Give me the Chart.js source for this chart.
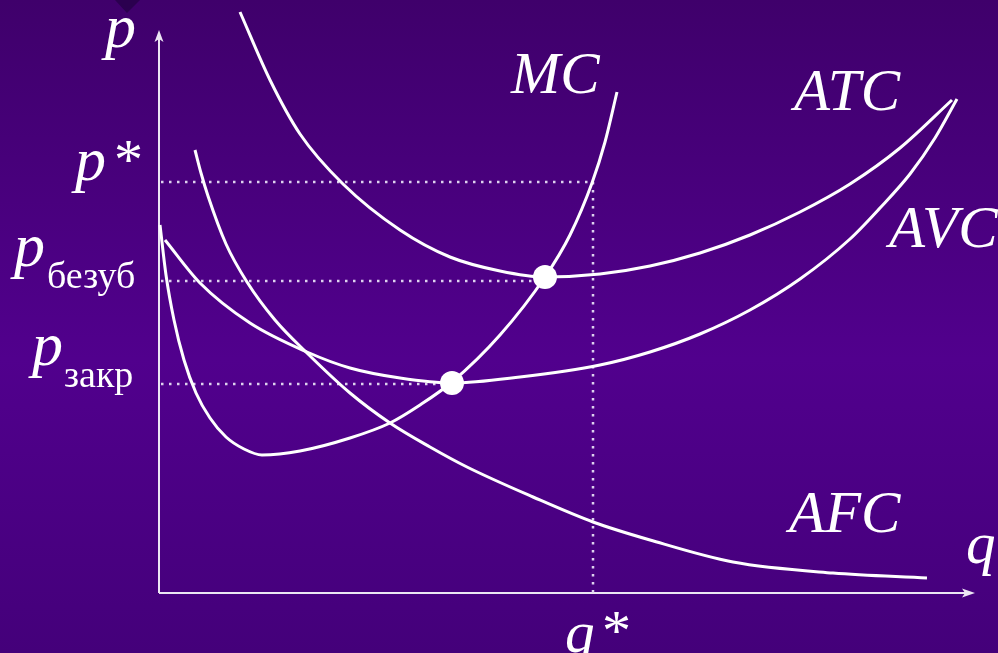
<!DOCTYPE html>
<html><head><meta charset="utf-8">
<script src="https://cdn.jsdelivr.net/npm/chart.js@4/dist/chart.umd.min.js"></script>
<style>html,body{margin:0;padding:0;background:#47007a;overflow:hidden}canvas{display:block}</style>
</head><body>
<canvas id="c" width="998" height="653"></canvas>
<script>
// quantity (q) and price (p) values
const mcQ  = [1, 7, 15, 25, 37, 51, 67, 85, 103, 141, 191, 231, 261, 293, 341, 386, 411, 433, 446, 458];
const mcP  = [368, 318, 273, 233, 200, 175, 156, 144, 138, 142, 155, 170, 188, 211, 258, 316, 358, 410, 451, 501];
const atcQ = [81, 111, 141, 184, 241, 291, 341, 386, 441, 491, 541, 591, 641, 691, 741, 793];
const atcP = [581, 513, 459, 409, 363, 336, 322, 316, 319, 327, 340, 358, 381, 409, 445, 493];
const avcQ = [6, 41, 91, 148, 191, 241, 293, 361, 441, 491, 541, 591, 641, 691, 721, 751, 776, 798];
const avcP = [353, 310, 270, 241, 225, 215, 210, 216, 228, 241, 259, 283, 314, 354, 385, 419, 455, 494];
const afcQ = [36, 42, 49, 67, 88, 116, 148, 191, 231, 271, 308, 374, 434, 491, 574, 674, 768];
const afcP = [443, 420, 397, 349, 311, 273, 240, 200, 170, 146, 126, 96, 71, 53, 31, 20, 15];
// key levels
const priceLabels = ['p*', 'pбезуб', 'pзакр'];
const priceLevels = [411, 312, 209];
const qStar = 434;
const dotQ = [386, 293];
const dotP = [316, 210];
const curveNames = ['MC', 'ATC', 'AVC', 'AFC'];
const xMax = 820, yMax = 593;

const pts = (qs, ps) => qs.map((q, i) => ({x: q, y: ps[i]}));
const curve = (qs, ps) => ({data: pts(qs, ps), showLine: true, borderColor: '#ffffff', borderWidth: 3,
  pointRadius: 0, cubicInterpolationMode: 'monotone', clip: false, order: 2});
const dotted = (data) => ({data, showLine: true, borderColor: '#ddd2ee', borderWidth: 2.5,
  borderDash: [2.5, 5.5], pointRadius: 0, tension: 0, clip: false, order: 3});

const datasets = [
  curve(mcQ, mcP), curve(atcQ, atcP), curve(avcQ, avcP), curve(afcQ, afcP),
  dotted([{x: 2, y: priceLevels[0]}, {x: qStar, y: priceLevels[0]}, {x: qStar, y: 0}]),
  dotted([{x: 2, y: priceLevels[1]}, {x: dotQ[0], y: priceLevels[1]}]),
  dotted([{x: 2, y: priceLevels[2]}, {x: dotQ[1], y: priceLevels[2]}]),
  {data: pts(dotQ, dotP), showLine: false, pointRadius: 12, pointBackgroundColor: '#ffffff',
   pointBorderWidth: 0, clip: false, order: 0}
];

const bgPlugin = {
  id: 'bg',
  beforeDraw(chart) {
    const ctx = chart.ctx, w = chart.width, h = chart.height;
    const g = ctx.createLinearGradient(0, 0, 0, h);
    g.addColorStop(0, '#3f006b');
    g.addColorStop(0.55, '#51008d');
    g.addColorStop(1, '#44007a');
    ctx.save(); ctx.fillStyle = g; ctx.fillRect(0, 0, w, h);
    ctx.fillStyle = '#2b004f';
    ctx.beginPath(); ctx.moveTo(115, 0); ctx.lineTo(140, 0); ctx.lineTo(127, 13); ctx.closePath(); ctx.fill();
    ctx.restore();
  },
  beforeDatasetsDraw(chart) {
    const ctx = chart.ctx, xs = chart.scales.x, ys = chart.scales.y;
    const x0 = xs.getPixelForValue(0), y0 = ys.getPixelForValue(0);
    const xEnd = xs.getPixelForValue(xMax) - 4, yTop = 30;
    ctx.save();
    ctx.strokeStyle = '#ece6f4'; ctx.fillStyle = '#ece6f4'; ctx.lineWidth = 2;
    ctx.beginPath(); ctx.moveTo(x0, y0); ctx.lineTo(x0, yTop + 6); ctx.stroke();
    ctx.beginPath(); ctx.moveTo(x0, y0); ctx.lineTo(xEnd - 6, y0); ctx.stroke();
    ctx.beginPath(); ctx.moveTo(x0, yTop); ctx.lineTo(x0 - 4.5, yTop + 12); ctx.lineTo(x0, yTop + 9); ctx.lineTo(x0 + 4.5, yTop + 12); ctx.closePath(); ctx.fill();
    ctx.beginPath(); ctx.moveTo(xEnd, y0); ctx.lineTo(xEnd - 13, y0 - 4.5); ctx.lineTo(xEnd - 10, y0); ctx.lineTo(xEnd - 13, y0 + 4.5); ctx.closePath(); ctx.fill();
    ctx.restore();
  },
  afterDatasetsDraw(chart) {
    const ctx = chart.ctx, xs = chart.scales.x, ys = chart.scales.y;
    const pFont = 'italic 62px "Liberation Serif", "Times New Roman", serif';
    const big = 'italic 59px "Liberation Serif", "Times New Roman", serif';
    const up = '58px "Liberation Serif", serif';
    const sub = '38px "Liberation Serif", serif';
    ctx.save(); ctx.fillStyle = '#ffffff'; ctx.textBaseline = 'alphabetic'; ctx.textAlign = 'left';
    // axis titles
    ctx.font = pFont; ctx.fillText('p', 105, 47);
    ctx.font = big; ctx.fillText('q', 966, 563);
    // p* level
    const yS = ys.getPixelForValue(priceLevels[0]);
    ctx.font = pFont; ctx.fillText(priceLabels[0][0], 75, yS - 2);
    ctx.font = up; ctx.fillText('*', 114, yS - 3);
    // p безуб
    const yB = ys.getPixelForValue(priceLevels[1]);
    ctx.font = pFont; ctx.fillText('p', 14, yB - 15);
    ctx.font = sub; ctx.fillText(priceLabels[1].slice(1), 47, yB + 7);
    // p закр
    const yZ = ys.getPixelForValue(priceLevels[2]);
    ctx.font = pFont; ctx.fillText('p', 32, yZ - 19);
    ctx.font = sub; ctx.fillText(priceLabels[2].slice(1), 64, yZ + 3);
    // q*
    const xq = xs.getPixelForValue(qStar);
    ctx.font = big; ctx.fillText('q', xq - 28, 652);
    ctx.font = up; ctx.fillText('*', xq + 9, 650);
    // curve names
    ctx.font = big;
    ctx.fillText(curveNames[0], 511, 93);
    ctx.fillText(curveNames[1], 794, 110);
    ctx.fillText(curveNames[2], 889, 247);
    ctx.fillText(curveNames[3], 789, 532);
    ctx.restore();
  }
};

new Chart(document.getElementById('c'), {
  type: 'scatter',
  data: {datasets},
  options: {
    responsive: false, devicePixelRatio: 1, animation: false,
    layout: {autoPadding: false, padding: {left: 159, right: 19, top: 0, bottom: 60}},
    scales: {
      x: {type: 'linear', min: 0, max: xMax, display: false},
      y: {type: 'linear', min: 0, max: yMax, display: false}
    },
    plugins: {legend: {display: false}, tooltip: {enabled: false}},
    events: []
  },
  plugins: [bgPlugin]
});
</script>
</body></html>
